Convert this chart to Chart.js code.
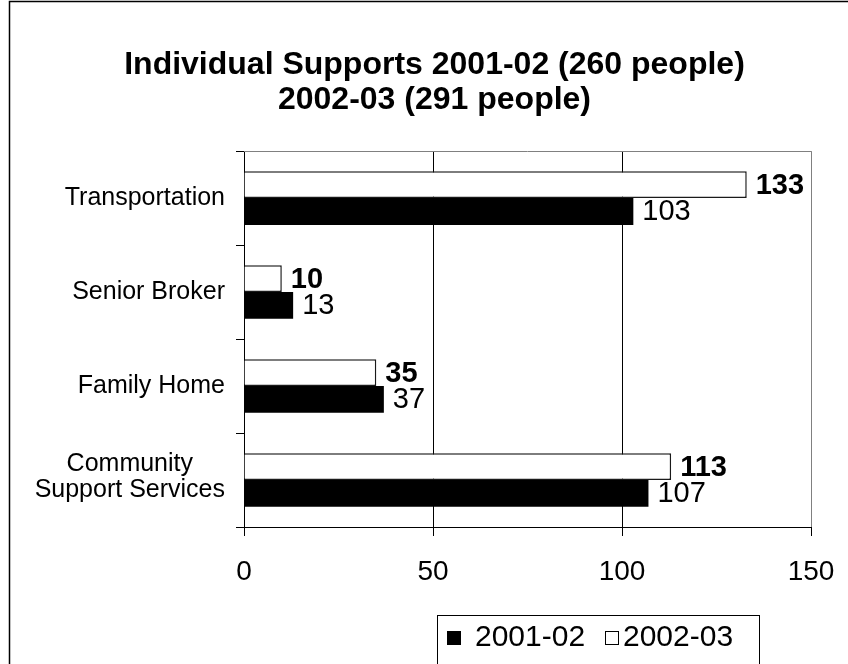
<!DOCTYPE html>
<html>
<head>
<meta charset="utf-8">
<script src="https://cdn.jsdelivr.net/npm/chart.js@4.4.1/dist/chart.umd.min.js"></script>
<style>
    html, body { margin: 0; padding: 0; background: #fff; }
    #wrap { width: 848px; height: 664px; }
</style>
</head>
<body>
<div id="wrap"><canvas id="chart" width="848" height="664"></canvas></div>
<script>
const categories = ["Transportation", "Senior Broker", "Family Home", ["Community", "Support Services"]];
const values0102 = [103, 13, 37, 107];
const values0203 = [133, 10, 35, 113];
const seriesNames = ["2001-02", "2002-03"];
const xTicks = [0, 50, 100, 150];
const titleLines = ["Individual Supports 2001-02 (260 people)", "2002-03 (291 people)"];

const FONT = '"Liberation Sans", Arial, sans-serif';
Chart.defaults.font.family = FONT;
Chart.defaults.color = "#000";

// white page + the outer frame (only left and top edges show)
const frame = {
    id: "frame",
    beforeDraw(chart) {
        const ctx = chart.ctx;
        ctx.save();
        ctx.fillStyle = "#fff";
        ctx.fillRect(0, 0, chart.width, chart.height);
        ctx.restore();
    },
    afterDraw(chart) {
        const ctx = chart.ctx;
        ctx.save();
        ctx.strokeStyle = "#000";
        ctx.lineWidth = 1.5;
        ctx.beginPath();
        ctx.moveTo(9.5, chart.height);
        ctx.lineTo(9.5, 1.5);
        ctx.lineTo(chart.width, 1.5);
        ctx.stroke();
        // gray top edge of the plot
        const a = chart.chartArea;
        ctx.strokeStyle = "#808080";
        ctx.lineWidth = 1;
        ctx.beginPath();
        ctx.moveTo(a.left, Math.round(a.top) + 0.5);
        ctx.lineTo(a.right, Math.round(a.top) + 0.5);
        ctx.stroke();
        ctx.restore();
    },
};

// category names, lines centred inside a right-aligned block
const categoryLabels = {
    id: "categoryLabels",
    afterDraw(chart) {
        const ctx = chart.ctx;
        const yScale = chart.scales.y;
        ctx.save();
        ctx.font = "25px " + FONT;
        ctx.fillStyle = "#000";
        ctx.textAlign = "center";
        ctx.textBaseline = "middle";
        chart.data.labels.forEach((label, i) => {
            const lines = Array.isArray(label) ? label : [label];
            const blockW = Math.max(...lines.map((l) => ctx.measureText(l).width));
            const cx = 225 - blockW / 2;
            const y = yScale.getPixelForTick(i);
            const lh = 26;
            lines.forEach((line, k) => {
                ctx.fillText(line, cx, y + (k - (lines.length - 1) / 2) * lh - (lines.length > 1 ? 3 : 0));
            });
        });
        ctx.restore();
    },
};

// value at the end of each bar, 2002-03 in bold
const valueLabels = {
    id: "valueLabels",
    afterDatasetsDraw(chart) {
        const ctx = chart.ctx;
        chart.data.datasets.forEach((ds, i) => {
            const meta = chart.getDatasetMeta(i);
            meta.data.forEach((bar, j) => {
                ctx.save();
                ctx.font = (ds.label === seriesNames[1] ? "bold " : "") + "29px " + FONT;
                ctx.fillStyle = "#000";
                ctx.textAlign = "left";
                ctx.textBaseline = "middle";
                ctx.fillText(String(ds.data[j]), bar.x + 9, bar.y + 1);
                ctx.restore();
            });
        });
    },
};

// boxed legend at the bottom, 2001-02 first
const boxLegend = {
    id: "boxLegend",
    afterDraw(chart) {
        const ctx = chart.ctx;
        ctx.save();
        ctx.strokeStyle = "#000";
        ctx.lineWidth = 1;
        ctx.strokeRect(437.5, 615.5, 322, 70);
        ctx.font = "30px " + FONT;
        ctx.textBaseline = "middle";
        ctx.textAlign = "left";
        const keyX = [447, 605];
        const textX = [475, 623];
        seriesNames.forEach((name, i) => {
            const ds = chart.data.datasets.find((d) => d.label === name);
            ctx.fillStyle = ds.backgroundColor;
            ctx.fillRect(keyX[i], 631, 14, 14);
            ctx.strokeStyle = "#000";
            ctx.strokeRect(keyX[i] + 0.5, 631.5, 13, 13);
            ctx.fillStyle = "#000";
            ctx.fillText(name, textX[i], 638);
        });
        ctx.restore();
    },
};

new Chart(document.getElementById("chart"), {
    type: "bar",
    data: {
        labels: categories,
        datasets: [
            {
                label: seriesNames[1],
                data: values0203,
                backgroundColor: "#fff",
                borderColor: "#1a1a1a",
                borderWidth: 1.5,
            },
            {
                label: seriesNames[0],
                data: values0102,
                backgroundColor: "#000",
                borderWidth: 0,
            },
        ],
    },
    options: {
        indexAxis: "y",
        responsive: false,
        animation: false,
        categoryPercentage: 0.57,
        barPercentage: 1.0,
        layout: { padding: { left: 58, right: 37, top: 0, bottom: 0 } },
        plugins: {
            legend: { display: false },
            tooltip: { enabled: false },
            title: {
                display: true,
                text: titleLines,
                color: "#000",
                font: { size: 32, weight: "bold", lineHeight: 1.08 },
                padding: { top: 48, bottom: 34 },
            },
        },
        scales: {
            x: {
                min: 0,
                max: 150,
                afterBuildTicks: (s) => { s.ticks = xTicks.map((v) => ({ value: v })); },
                afterFit: (s) => {
                    s.height = 137;
                    // let the layout padding decide the plot's right edge
                    s.paddingLeft = 0;
                    s.paddingRight = 0;
                },
                ticks: { color: "#000", font: { size: 28 }, padding: 19 },
                grid: {
                    color: (c) => (c.tick.value === 0 ? "rgba(0,0,0,0)" : c.tick.value === 150 ? "#808080" : "#000"),
                    tickColor: "#000",
                    tickLength: 9,
                    lineWidth: 1,
                },
                border: { color: "#000", width: 1 },
            },
            y: {
                afterFit: (s) => { s.width = 244 - 58; },
                ticks: { display: false },
                grid: {
                    drawOnChartArea: false,
                    drawTicks: true,
                    tickLength: 8,
                    tickColor: "#000",
                    color: "#000",
                },
                border: { color: "#000", width: 1 },
            },
        },
    },
    plugins: [frame, categoryLabels, valueLabels, boxLegend],
});
</script>
</body>
</html>
